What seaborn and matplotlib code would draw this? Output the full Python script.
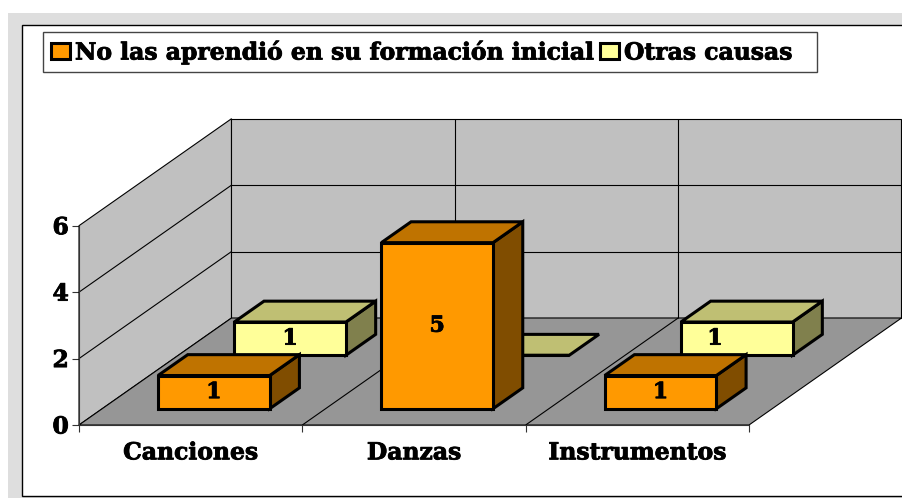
import matplotlib
matplotlib.use("Agg")
import matplotlib.pyplot as plt
from matplotlib.patches import Rectangle, Polygon, Patch
from matplotlib.patheffects import withStroke
import pandas as pd
import seaborn as sns

categorias = ["Canciones", "Danzas", "Instrumentos"]
series = ["Otras causas", "No las aprendió en su formación inicial"]
no_aprendio = [1, 5, 1]
otras_causas = [1, 0, 1]
valor_ticks = [0, 2, 4, 6]

W, H = 902, 498
FONT = "DejaVu Serif"
FS = 16.9

sns.set_style("white")
plt.rcParams["font.family"] = FONT
plt.rcParams["font.weight"] = "bold"
plt.rcParams["text.color"] = "black"
plt.rcParams["xtick.color"] = "black"
plt.rcParams["ytick.color"] = "black"

fig = plt.figure(figsize=(W / 100, H / 100), dpi=100, facecolor="white")
HEAVY = [withStroke(linewidth=0.6, foreground="black")]


def frac(x0, y0, x1, y1):
    return (x0 / W, 1 - y1 / H), (x1 - x0) / W, (y1 - y0) / H


for (box, fc, ec, lw, zo) in [
    ((8, 13, W + 5, H + 5), "#DEDEDE", "none", 0, -5),
    ((22, 25, W + 5, 496), "white", "black", 1.0, -4),
    ((43, 32, 817, 72), "white", "#444444", 1.0, -3),
]:
    xy, w, h = frac(*box)
    fig.add_artist(Rectangle(xy, w, h, transform=fig.transFigure, fc=fc, ec=ec, lw=lw,
                             zorder=zo))

ax = fig.add_axes([79 / W, 1 - 425 / H, 670 / W, 199.3 / H], facecolor="none")

df = pd.DataFrame({
    "categoria": categorias * 2,
    "serie": [series[0]] * 3 + [series[1]] * 3,
    "valor": otras_causas + no_aprendio,
})
colores = {series[0]: "#FFFF99", series[1]: "#FF9900"}
sns.barplot(data=df, x="categoria", y="valor", hue="serie", order=categorias,
            hue_order=series, palette=colores, dodge=False, width=0.5, saturation=1,
            legend=False, edgecolor="black", linewidth=2.2, ax=ax)

ax.set_xlim(-0.5, 2.5)
ax.set_ylim(0, 6)

# Oblique projection: depth d in [0, 1] moves a point back along the floor
DX, DY = 152.5 / (670 / 3), 107 / (199.3 / 6)
X0, X1 = -0.5, 2.5
Y1 = 6


def pr(x, y, d):
    return (x + d * DX, y + d * DY)


def poly(pts, fc, ec="black", lw=0.8, z=1):
    ax.add_patch(Polygon(pts, closed=True, fc=fc, ec=ec, lw=lw, zorder=z,
                         clip_on=False, joinstyle="miter"))


def line(a, b, z=1.5):
    ax.plot([a[0], b[0]], [a[1], b[1]], color="black", lw=0.8, zorder=z,
            clip_on=False, solid_capstyle="butt")


# Walls and floor
poly([pr(X0, 0, 0), pr(X0, Y1, 0), pr(X0, Y1, 1), pr(X0, 0, 1)], "#C0C0C0")
poly([pr(X0, 0, 1), pr(X0, Y1, 1), pr(X1, Y1, 1), pr(X1, 0, 1)], "#C0C0C0")
poly([pr(X0, 0, 0), pr(X1, 0, 0), pr(X1, 0, 1), pr(X0, 0, 1)], "#969696")
for v in valor_ticks[1:-1]:
    line(pr(X0, v, 0), pr(X0, v, 1))
    line(pr(X0, v, 1), pr(X1, v, 1))
for c in (0.5, 1.5):
    line(pr(c, 0, 0), pr(c, 0, 1))
    line(pr(c, 0, 1), pr(c, Y1, 1))

# Bars: the seaborn rectangles become the front faces, moved back in depth
BAR_D = 0.195
estilos = [
    (0.652, "#BFBF73", "#80804D", otras_causas),
    (0.152, "#BF7300", "#804D00", no_aprendio),
]
for i, (cont, (d0, c_top, c_side, vals)) in enumerate(zip(ax.containers, estilos)):
    z = 5 + i
    for bar in cont:
        x, y, w, h = bar.get_x(), bar.get_y(), bar.get_width(), bar.get_height()
        sx, sy = pr(x, y, d0)
        bar.set_x(sx)
        bar.set_y(sy)
        bar.set_zorder(z + 0.2)
        bar.set_clip_on(False)
        bar.set_joinstyle("miter")
        if h > 0:
            poly([pr(x + w, y, d0), pr(x + w, y + h, d0),
                  pr(x + w, y + h, d0 + BAR_D), pr(x + w, y, d0 + BAR_D)],
                 c_side, lw=2.2, z=z)
        poly([pr(x, y + h, d0), pr(x + w, y + h, d0),
              pr(x + w, y + h, d0 + BAR_D), pr(x, y + h, d0 + BAR_D)],
             c_top, lw=2.2, z=z)
    labs = ax.bar_label(cont, labels=[f"{v:g}" if v else "" for v in vals],
                        label_type="center", fontsize=FS - 1, fontweight="bold",
                        color="black", family=FONT)
    for t in labs:
        t.set_zorder(z + 0.5)
        t.set_path_effects(HEAVY)

# Axes
for s in ("top", "right"):
    ax.spines[s].set_visible(False)
for s in ("left", "bottom"):
    ax.spines[s].set_color("#333333")
    ax.spines[s].set_linewidth(0.8)
    ax.spines[s].set_zorder(3)
ax.set_xlabel("")
ax.set_ylabel("")
ax.set_yticks(valor_ticks)
ax.set_yticklabels([str(v) for v in valor_ticks], fontsize=FS, fontweight="bold")
ax.tick_params(axis="y", left=True, length=5, width=0.8, color="#333333", pad=2.3)
ax.set_xticks(range(len(categorias)))
ax.set_xticklabels(categorias, fontsize=FS, fontweight="bold")
ax.set_xticks([-0.5, 0.5, 1.5, 2.5], minor=True)
ax.tick_params(axis="x", which="major", bottom=False, pad=9)
ax.tick_params(axis="x", which="minor", bottom=True, length=5, width=0.8, color="#333333")
for t in ax.get_xticklabels() + ax.get_yticklabels():
    t.set_path_effects(HEAVY)

# Legend (its frame is the rectangle drawn above)
handles = [Patch(fc=colores[series[1]], ec="black", lw=2.2, label=series[1]),
           Patch(fc=colores[series[0]], ec="black", lw=2.2, label=series[0])]
leg = fig.legend(handles=handles, ncol=2, loc="upper left",
                 bbox_to_anchor=(51 / W, 1 - 41 / H), bbox_transform=fig.transFigure,
                 borderaxespad=0, frameon=False, fontsize=FS,
                 handlelength=0.8, handleheight=0.7, handletextpad=0.22,
                 columnspacing=0.28, borderpad=0)
for t in leg.get_texts():
    t.set_path_effects(HEAVY)

fig.savefig("out.png", dpi=100)
